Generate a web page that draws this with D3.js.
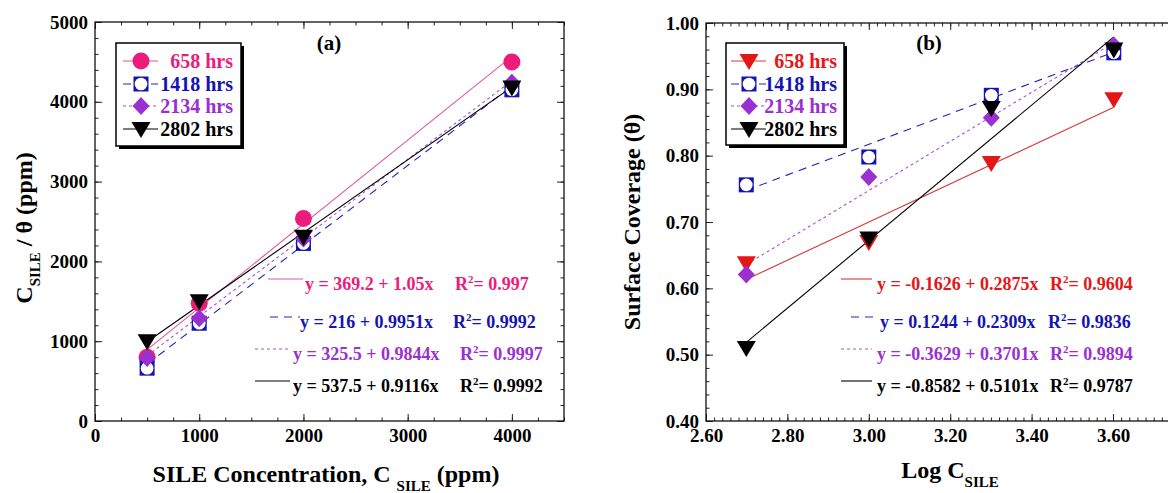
<!DOCTYPE html>
<html><head><meta charset="utf-8">
<script src="https://cdn.jsdelivr.net/npm/d3@7"></script>
<style>
body{margin:0;background:#fff}
svg{display:block}
</style>
</head><body>
<svg id="chart" width="1168" height="493" font-family="'Liberation Serif', 'DejaVu Serif', 'Times New Roman', serif" font-weight="bold"></svg>
<script>
// panel (a): C_SILE / theta vs concentration
var concA = [500, 1000, 2000, 4000];
var ratio658 = [800, 1475, 2537, 4500];
var ratio1418 = [662, 1225, 2225, 4150];
var ratio2134 = [790, 1287, 2287, 4240];
var ratio2802 = [1000, 1500, 2310, 4180];
var fitAIntercept = [369.2, 216, 325.5, 537.5];
var fitASlope = [1.05, 0.9951, 0.9844, 0.9116];
var fitAText = ["y = 369.2 + 1.05x", "y = 216 + 0.9951x", "y = 325.5 + 0.9844x", "y = 537.5 + 0.9116x"];
var fitAR2 = ["0.997", "0.9992", "0.9997", "0.9992"];
var xTicksA = [0, 1000, 2000, 3000, 4000];
var yTicksA = [0, 1000, 2000, 3000, 4000, 5000];

// panel (b): surface coverage vs log C
var logConcB = [2.699, 3.0, 3.301, 3.602];
var cover658 = [0.638, 0.670, 0.789, 0.885];
var cover1418 = [0.756, 0.798, 0.891, 0.955];
var cover2134 = [0.621, 0.768, 0.857, 0.966];
var cover2802 = [0.510, 0.675, 0.872, 0.960];
var fitBIntercept = [-0.1626, 0.1244, -0.3629, -0.8582];
var fitBSlope = [0.2875, 0.2309, 0.3701, 0.5101];
var fitBText = ["y = -0.1626 + 0.2875x", "y = 0.1244 + 0.2309x", "y = -0.3629 + 0.3701x", "y = -0.8582 + 0.5101x"];
var fitBR2 = ["0.9604", "0.9836", "0.9894", "0.9787"];
var xTicksB = [2.6, 2.8, 3.0, 3.2, 3.4, 3.6];
var yTicksB = [0.4, 0.5, 0.6, 0.7, 0.8, 0.9, 1.0];

var seriesNames = ["658 hrs", "1418 hrs", "2134 hrs", "2802 hrs"];

var FONT = "'Liberation Serif', 'DejaVu Serif', 'Times New Roman', serif";
var svg = d3.select("#chart");

var panels = [
  {
    title: "(a)", titleX: 329, xr: [95, 564], yr: [421, 22], xd: [0, 4500], yd: [0, 5000],
    xTicks: xTicksA, yTicks: yTicksA, xMinor: 250, yMinor: 200,
    xFmt: d3.format("d"), yFmt: d3.format("d"),
    xs: concA, ys: [ratio658, ratio1418, ratio2134, ratio2802],
    icpt: fitAIntercept, slope: fitASlope, eq: fitAText, r2: fitAR2,
    markers: ["circle", "squareCircle", "diamond", "triDown"],
    colors: ["#EC1C7C", "#1414B4", "#9B30D0", "#000"],
    lineColors: ["#E2559A", "#2323B8", "#A652DA", "#000"],
    legend: {x: 116, y: 43, w: 125, h: 103, mx: 141, tx: 233},
    eqPos: [{lx: 268, lx2: 303, tx: 305, rx: 455}, {lx: 270, lx2: 300, tx: 300, rx: 453},
            {lx: 255, lx2: 290, tx: 293, rx: 460}, {lx: 255, lx2: 290, tx: 293, rx: 460}]
  },
  {
    title: "(b)", titleX: 929, xr: [706, 1194.4], yr: [421, 23], xd: [2.6, 3.8], yd: [0.4, 1.0],
    xTicks: xTicksB, yTicks: yTicksB, xMinor: 0.02, yMinor: 0.02,
    xFmt: d3.format(".2f"), yFmt: d3.format(".2f"),
    xs: logConcB, ys: [cover658, cover1418, cover2134, cover2802],
    icpt: fitBIntercept, slope: fitBSlope, eq: fitBText, r2: fitBR2,
    markers: ["triDown", "squareCircle", "diamond", "triDown"],
    colors: ["#E41616", "#1414B4", "#9B30D0", "#000"],
    lineColors: ["#D63838", "#2323B8", "#A652DA", "#000"],
    legend: {x: 726, y: 43, w: 118, h: 102, mx: 749, tx: 837},
    eqPos: [{lx: 841, lx2: 872, tx: 877, rx: 1050}, {lx: 851, lx2: 875, tx: 880, rx: 1048},
            {lx: 841, lx2: 872, tx: 877, rx: 1050}, {lx: 841, lx2: 872, tx: 877, rx: 1050}]
  }
];

var dashes = [null, "8,6", "3,3", null];
var rowY = [61, 84, 106, 129];
var eqRowY = [279, 317, 349, 381];

function drawMarker(g, type, color, x, y) {
  if (type === "circle") {
    g.append("circle").attr("cx", x).attr("cy", y).attr("r", 8.5).attr("fill", color);
  } else if (type === "squareCircle") {
    g.append("rect").attr("x", x - 7.5).attr("y", y - 7.5).attr("width", 15).attr("height", 15).attr("fill", color);
    g.append("circle").attr("cx", x).attr("cy", y).attr("r", 6.3).attr("fill", "#fff");
  } else if (type === "diamond") {
    g.append("path").attr("d", "M" + x + "," + (y - 9) + "L" + (x + 8.5) + "," + y + "L" + x + "," + (y + 9) + "L" + (x - 8.5) + "," + y + "Z").attr("fill", color);
  } else {
    g.append("path").attr("d", "M" + (x - 9.5) + "," + (y - 7) + "L" + (x + 9.5) + "," + (y - 7) + "L" + x + "," + (y + 9) + "Z").attr("fill", color);
  }
}

panels.forEach(function(p) {
  var x = d3.scaleLinear().domain(p.xd).range(p.xr);
  var y = d3.scaleLinear().domain(p.yd).range(p.yr);
  var g = svg.append("g");

  var xMinorVals = d3.range(p.xd[0], p.xd[1] + 1e-9, p.xMinor);
  var yMinorVals = d3.range(p.yd[0], p.yd[1] + 1e-9, p.yMinor);
  var xMajorAll = d3.range(p.xd[0], p.xd[1] + 1e-9, p.xTicks[1] - p.xTicks[0]);

  // minor ticks, all four sides
  var minorAxes = [
    [d3.axisBottom(x).tickValues(xMinorVals), "translate(0," + p.yr[0] + ")"],
    [d3.axisTop(x).tickValues(xMinorVals), "translate(0," + p.yr[1] + ")"],
    [d3.axisLeft(y).tickValues(yMinorVals), "translate(" + p.xr[0] + ",0)"],
    [d3.axisRight(y).tickValues(yMinorVals), "translate(" + p.xr[1] + ",0)"]
  ];
  minorAxes.forEach(function(a) {
    g.append("g").attr("transform", a[1])
      .call(a[0].tickSize(-3.5).tickFormat(""))
      .call(function(s) { s.select(".domain").remove(); });
  });

  // major ticks
  g.append("g").attr("transform", "translate(0," + p.yr[0] + ")")
    .call(d3.axisBottom(x).tickValues(xMajorAll).tickSize(-7).tickFormat(""))
    .call(function(s) { s.select(".domain").remove(); });
  g.append("g").attr("transform", "translate(0," + p.yr[0] + ")")
    .call(d3.axisBottom(x).tickValues(p.xTicks).tickSize(0).tickPadding(8).tickFormat(p.xFmt))
    .call(function(s) { s.select(".domain").remove(); s.selectAll("text").attr("font-size", 19).attr("fill", "#000"); });
  g.append("g").attr("transform", "translate(0," + p.yr[1] + ")")
    .call(d3.axisTop(x).tickValues(xMajorAll).tickSize(-7).tickFormat(""))
    .call(function(s) { s.select(".domain").remove(); });
  g.append("g").attr("transform", "translate(" + p.xr[0] + ",0)")
    .call(d3.axisLeft(y).tickValues(p.yTicks).tickSize(-7).tickPadding(7).tickFormat(p.yFmt))
    .call(function(s) { s.select(".domain").remove(); s.selectAll("text").attr("font-size", 19).attr("fill", "#000"); });
  g.append("g").attr("transform", "translate(" + p.xr[1] + ",0)")
    .call(d3.axisRight(y).tickValues(p.yTicks).tickSize(-7).tickFormat(""))
    .call(function(s) { s.select(".domain").remove(); });
  g.selectAll(".tick line").attr("stroke", "#222");
  g.selectAll("g").attr("font-family", FONT);

  g.append("rect")
    .attr("x", p.xr[0]).attr("y", p.yr[1])
    .attr("width", p.xr[1] - p.xr[0]).attr("height", p.yr[0] - p.yr[1])
    .attr("fill", "none").attr("stroke", "#111").attr("stroke-width", 1.3);

  // fit lines
  p.icpt.forEach(function(b, i) {
    var x0 = p.xs[0], x1 = p.xs[p.xs.length - 1];
    g.append("line")
      .attr("x1", x(x0)).attr("y1", y(b + p.slope[i] * x0))
      .attr("x2", x(x1)).attr("y2", y(b + p.slope[i] * x1))
      .attr("stroke", p.lineColors[i]).attr("stroke-width", 1.1)
      .attr("stroke-dasharray", dashes[i]);
  });

  // points
  p.ys.forEach(function(vals, i) {
    vals.forEach(function(v, j) {
      drawMarker(g, p.markers[i], p.colors[i], x(p.xs[j]), y(v));
    });
  });

  // panel title
  g.append("text").attr("x", p.titleX).attr("y", 50)
    .attr("text-anchor", "middle").attr("font-size", 21).text(p.title);

  // legend
  var L = p.legend;
  g.append("rect").attr("x", L.x + 3).attr("y", L.y + 3).attr("width", L.w).attr("height", L.h).attr("fill", "#000");
  g.append("rect").attr("x", L.x).attr("y", L.y).attr("width", L.w).attr("height", L.h)
    .attr("fill", "#fff").attr("stroke", "#000").attr("stroke-width", 1.5);
  seriesNames.forEach(function(name, i) {
    g.append("line").attr("x1", L.mx - 18).attr("x2", L.mx + 17).attr("y1", rowY[i]).attr("y2", rowY[i])
      .attr("stroke", p.lineColors[i]).attr("stroke-width", 1.1).attr("stroke-dasharray", dashes[i]);
    drawMarker(g, p.markers[i], p.colors[i], L.mx, rowY[i]);
    g.append("text").attr("x", L.tx).attr("y", rowY[i] + 7).attr("text-anchor", "end")
      .attr("font-size", 20).attr("fill", p.colors[i]).text(name);
  });

  // equations
  p.eq.forEach(function(txt, i) {
    var e = p.eqPos[i];
    g.append("line").attr("x1", e.lx).attr("x2", e.lx2).attr("y1", eqRowY[i]).attr("y2", eqRowY[i])
      .attr("stroke", p.lineColors[i]).attr("stroke-width", 1.1).attr("stroke-dasharray", dashes[i]);
    var t = g.append("text").attr("y", eqRowY[i] + 11).attr("font-size", 18).attr("fill", p.colors[i]);
    t.append("tspan").attr("x", e.tx).text(txt);
    t.append("tspan").attr("x", e.rx).text("R");
    t.append("tspan").attr("dy", -7).attr("font-size", 11).text("2");
    t.append("tspan").attr("dy", 7).text("= " + p.r2[i]);
  });
});

// axis titles
var ta = svg.append("text").attr("transform", "translate(32,228) rotate(-90)").attr("text-anchor", "middle").attr("font-size", 24);
ta.append("tspan").text("C");
ta.append("tspan").attr("font-size", 15).attr("dy", 8).text("SILE");
ta.append("tspan").attr("dy", -8).text(" / \u03B8 (ppm)");

svg.append("text").attr("transform", "translate(640,222) rotate(-90)").attr("text-anchor", "middle")
  .attr("font-size", 24).text("Surface Coverage (\u03B8)");

var tx = svg.append("text").attr("x", 326).attr("y", 482).attr("text-anchor", "middle").attr("font-size", 24);
tx.append("tspan").text("SILE Concentration, C ");
tx.append("tspan").attr("font-size", 15).attr("dy", 9).text("SILE");
tx.append("tspan").attr("dy", -9).text(" (ppm)");

var tb = svg.append("text").attr("x", 950).attr("y", 478).attr("text-anchor", "middle").attr("font-size", 24);
tb.append("tspan").text("Log C");
tb.append("tspan").attr("font-size", 15).attr("dy", 9).text("SILE");
</script>
</body></html>
